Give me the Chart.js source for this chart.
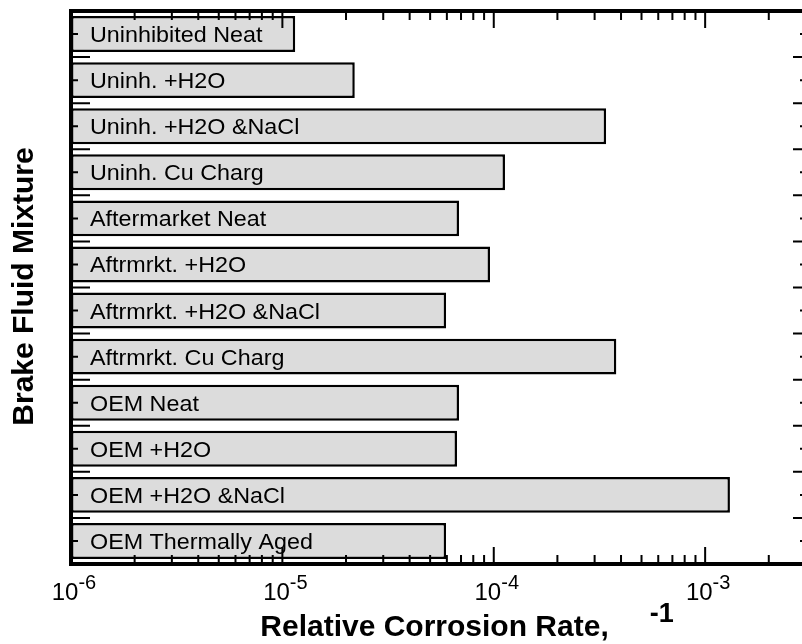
<!DOCTYPE html>
<html>
<head>
<meta charset="utf-8">
<script src="https://cdn.jsdelivr.net/npm/chart.js@4"></script>
<style>
  html, body { margin: 0; padding: 0; background: #fff; overflow: hidden; }
  #wrap { width: 812px; height: 644px; }
</style>
</head>
<body>
<div id="wrap"><canvas id="corrosionChart" width="812" height="644"></canvas></div>
<script>
// brake fluid mixtures, top to bottom
const mixtures = [
    'Uninhibited Neat',
    'Uninh. +H2O',
    'Uninh. +H2O &NaCl',
    'Uninh. Cu Charg',
    'Aftermarket Neat',
    'Aftrmrkt. +H2O',
    'Aftrmrkt. +H2O &NaCl',
    'Aftrmrkt. Cu Charg',
    'OEM Neat',
    'OEM +H2O',
    'OEM +H2O &NaCl',
    'OEM Thermally Aged',
];

// relative corrosion rate per mixture
const corrosionRates = [
    1.15e-5, 2.2e-5, 3.4e-4, 1.13e-4,
    6.85e-5, 9.6e-5, 5.95e-5, 3.8e-4,
    6.85e-5, 6.7e-5, 1.31e-3, 5.95e-5,
];

// log axis: labelled decades and minor multipliers inside each decade
const decadeExponents = [-6, -5, -4, -3];
const minorMultipliers = [2, 3, 4, 5, 6, 7, 8, 9];
const axisMin = 1e-6;
const axisMax = 3e-3;

const FONT = '"Liberation Sans", Arial, Helvetica, sans-serif';

function drawPowerLabel(ctx, exp, cx, baseY) {
    const base = '10';
    const sup = String(exp);
    ctx.font = `24px ${FONT}`;
    const wBase = ctx.measureText(base).width;
    ctx.font = `20px ${FONT}`;
    const wSup = ctx.measureText(sup).width;
    const start = cx + 3 - (wBase + wSup) / 2;
    ctx.textAlign = 'left';
    ctx.textBaseline = 'alphabetic';
    ctx.font = `24px ${FONT}`;
    ctx.fillText(base, start, baseY);
    ctx.font = `20px ${FONT}`;
    ctx.fillText(sup, start + wBase, baseY - 11);
}

const framePlugin = {
    id: 'frame',
    afterDatasetsDraw(chart) {
        const { ctx, chartArea: a } = chart;
        const xs = chart.scales.x;
        const ys = chart.scales.y;
        ctx.save();
        ctx.fillStyle = '#000';
        ctx.strokeStyle = '#000';

        // mixture names sit inside the bars
        mixtures.forEach((name, i) => {
            const py = ys.getPixelForValue(i);
            ctx.save();
            ctx.translate(a.left + 19, py + 8);
            ctx.scale(1.06, 1);
            ctx.font = `22px ${FONT}`;
            ctx.textAlign = 'left';
            ctx.textBaseline = 'alphabetic';
            ctx.fillText(name, 0, 0);
            ctx.restore();
        });

        // category ticks: short at centres, long between bands
        ctx.lineWidth = 2;
        ctx.beginPath();
        mixtures.forEach((name, i) => {
            const py = ys.getPixelForValue(i);
            ctx.moveTo(a.left, py); ctx.lineTo(a.left + 7, py);
            ctx.moveTo(a.right, py); ctx.lineTo(a.right - 6, py);
            if (i < mixtures.length - 1) {
                const pb = (py + ys.getPixelForValue(i + 1)) / 2;
                ctx.moveTo(a.left, pb); ctx.lineTo(a.left + 19, pb);
                ctx.moveTo(a.right, pb); ctx.lineTo(a.right - 13, pb);
            }
        });
        ctx.stroke();

        // log ticks on top and bottom, pointing inward
        const ticks = [];
        decadeExponents.forEach(e => {
            ticks.push({ v: Math.pow(10, e), major: true });
            minorMultipliers.forEach(m => ticks.push({ v: m * Math.pow(10, e), major: false }));
        });
        ctx.beginPath();
        ticks.forEach(t => {
            if (t.v < axisMin || t.v > axisMax) return;
            const px = xs.getPixelForValue(t.v);
            const len = t.major ? 17 : 9;
            ctx.moveTo(px, a.top); ctx.lineTo(px, a.top + len);
            ctx.moveTo(px, a.bottom); ctx.lineTo(px, a.bottom - len);
        });
        ctx.lineWidth = 2;
        ctx.stroke();

        // frame
        ctx.lineWidth = 4;
        ctx.strokeRect(a.left, a.top, a.right - a.left, a.bottom - a.top);

        // decade labels
        decadeExponents.forEach(e => {
            drawPowerLabel(ctx, e, xs.getPixelForValue(Math.pow(10, e)), a.bottom + 36);
        });

        // x title with its unit exponent
        ctx.font = `bold 30px ${FONT}`;
        ctx.textAlign = 'center';
        ctx.textBaseline = 'alphabetic';
        const title = 'Relative Corrosion Rate,';
        const cx = (a.left + a.right) / 2 - 4;
        ctx.fillText(title, cx, a.bottom + 72);
        const tEnd = cx + ctx.measureText(title).width / 2;
        ctx.font = `bold 27px ${FONT}`;
        ctx.textAlign = 'left';
        ctx.fillText('-1', tEnd + 41, a.bottom + 58);

        // y title
        ctx.save();
        ctx.translate(33, (a.top + a.bottom) / 2 - 1);
        ctx.rotate(-Math.PI / 2);
        ctx.font = `bold 30px ${FONT}`;
        ctx.textAlign = 'center';
        ctx.fillText('Brake Fluid Mixture', 0, 0);
        ctx.restore();

        ctx.restore();
    },
};

new Chart(document.getElementById('corrosionChart').getContext('2d'), {
    type: 'bar',
    data: {
        labels: mixtures,
        datasets: [{
            data: corrosionRates,
            backgroundColor: '#dcdcdc',
            borderColor: '#000',
            borderWidth: 2.5,
            borderSkipped: false,
            barPercentage: 0.78,
            categoryPercentage: 1,
        }],
    },
    options: {
        indexAxis: 'y',
        responsive: false,
        animation: false,
        devicePixelRatio: 1,
        layout: { padding: { left: 71, right: 6, top: 11, bottom: 80 } },
        plugins: {
            legend: { display: false },
            tooltip: { enabled: false },
        },
        scales: {
            x: {
                type: 'logarithmic',
                min: axisMin,
                max: axisMax,
                display: false,
            },
            y: {
                type: 'category',
                display: false,
            },
        },
    },
    plugins: [framePlugin],
});
</script>
</body>
</html>
